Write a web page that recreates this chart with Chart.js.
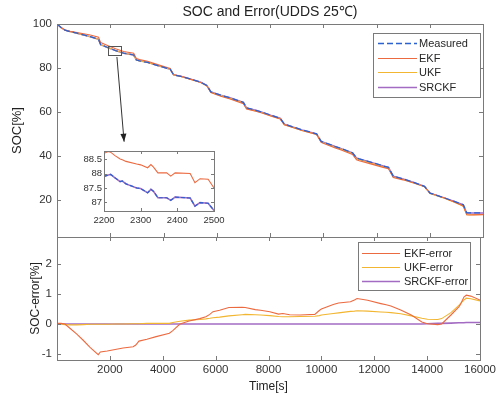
<!doctype html>
<html lang="en">

<head>
    <meta charset="utf-8" />
    <title>SOC and Error</title>
    <script src="https://cdn.jsdelivr.net/npm/chart.js"></script>
    <style>
        html, body { margin: 0; padding: 0; background: #fff; }
        #wrap { position: relative; width: 499px; height: 399px; }
        #wrap canvas { position: absolute; }
    </style>
</head>

<body>
    <div id="wrap">
        <canvas id="chartSoc" width="499" height="399" style="left:0;top:0"></canvas>
        <canvas id="chartError" width="499" height="399" style="left:0;top:0"></canvas>
        <canvas id="chartZoom" width="170" height="95" style="left:60px;top:140px"></canvas>
    </div>
    <script>
        // time grid [s]
        const time = [
            0, 150, 300, 500, 750, 1000, 1250, 1560, 1640, 1900,
            2200, 2500, 2880, 2980, 3100, 3400, 3750, 4250, 4380, 4650,
            5000, 5400, 5630, 5780, 5900, 6150, 6500, 7000, 7120, 7500,
            7700, 8050, 8380, 8540, 8800, 9200, 9750, 9920, 10000, 10450,
            10650, 11100, 11250, 11350, 11750, 12250, 12450, 12630, 13000, 13400,
            13800, 14010, 14400, 14550, 14900, 15200, 15260, 15390, 15480, 15650,
            16000
        ];
        // SOC [%]
        const socMeasured = [
            100.0, 98.4, 97.2, 96.5, 95.8, 95.0, 94.2, 93.0, 90.6, 89.3,
            87.9, 86.7, 85.9, 83.6, 83.2, 82.5, 81.2, 79.4, 76.8, 76.2,
            75.0, 73.5, 72.0, 69.1, 68.6, 67.6, 66.4, 64.3, 61.8, 60.6,
            59.9, 58.4, 57.1, 54.4, 53.4, 51.8, 50.0, 46.6, 46.2, 44.2,
            43.4, 41.3, 39.0, 38.6, 37.2, 35.4, 34.7, 30.7, 29.5, 27.9,
            26.1, 23.0, 21.4, 20.8, 19.3, 18.0, 17.7, 14.0, 14.0, 14.0,
            14.0
        ];
        const socEkf = [
            99.98, 98.38, 97.2, 96.65, 96.14, 95.55, 94.98, 94.02, 91.53, 90.2,
            88.75, 87.5, 86.66, 84.3, 83.77, 83.01, 81.62, 79.71, 77.02, 76.2,
            74.9, 73.32, 71.76, 68.78, 68.19, 67.14, 65.85, 63.74, 61.25, 60.12,
            59.44, 57.99, 56.77, 54.05, 53.09, 51.5, 49.68, 46.15, 45.7, 43.55,
            42.7, 40.56, 38.2, 37.75, 36.41, 34.72, 34.06, 30.1, 29.03, 27.6,
            26.03, 22.99, 21.42, 20.8, 19.0, 17.43, 17.05, 13.1, 13.04, 13.07,
            13.2
        ];
        const socUkf = [
            100.0, 98.41, 97.22, 96.53, 95.83, 95.02, 94.21, 93.01, 90.61, 89.31,
            87.9, 86.7, 85.89, 83.59, 83.19, 82.48, 81.18, 79.38, 76.75, 76.11,
            74.87, 73.35, 71.83, 68.91, 68.39, 67.37, 66.13, 63.99, 61.48, 60.29,
            59.6, 58.12, 56.85, 54.16, 53.16, 51.55, 49.74, 46.32, 45.9, 43.85,
            43.03, 40.88, 38.57, 38.16, 36.77, 35.0, 34.31, 30.32, 29.16, 27.63,
            25.91, 22.84, 21.25, 20.62, 18.92, 17.38, 17.02, 13.2, 13.14, 13.16,
            13.23
        ];
        const socSrckf = [
            100.0, 98.4, 97.2, 96.5, 95.8, 95.0, 94.2, 93.0, 90.6, 89.3,
            87.9, 86.7, 85.9, 83.6, 83.2, 82.5, 81.2, 79.4, 76.8, 76.2,
            75.0, 73.5, 72.0, 69.1, 68.6, 67.6, 66.4, 64.3, 61.8, 60.6,
            59.9, 58.4, 57.1, 54.4, 53.4, 51.8, 50.0, 46.6, 46.2, 44.2,
            43.4, 41.3, 39.0, 38.6, 37.2, 35.4, 34.7, 30.7, 29.5, 27.9,
            26.1, 22.99, 21.38, 20.78, 19.27, 17.96, 17.66, 13.96, 13.95, 13.95,
            13.95
        ];
        // SOC error [%]
        const errEkf = [
            0.02, 0.02, 0.0, -0.15, -0.34, -0.55, -0.78, -1.02, -0.93, -0.9,
            -0.85, -0.8, -0.76, -0.7, -0.57, -0.51, -0.42, -0.31, -0.22, 0.0,
            0.1, 0.18, 0.24, 0.32, 0.41, 0.46, 0.55, 0.56, 0.55, 0.48,
            0.46, 0.41, 0.33, 0.35, 0.31, 0.3, 0.32, 0.45, 0.5, 0.65,
            0.7, 0.74, 0.8, 0.85, 0.79, 0.68, 0.64, 0.6, 0.47, 0.3,
            0.07, 0.01, -0.02, 0.0, 0.3, 0.57, 0.65, 0.9, 0.96, 0.93,
            0.8
        ];
        const errUkf = [
            0.0, -0.01, -0.02, -0.03, -0.03, -0.02, -0.01, -0.01, -0.01, -0.01,
            0.0, 0.0, 0.01, 0.01, 0.01, 0.02, 0.02, 0.02, 0.05, 0.09,
            0.13, 0.15, 0.17, 0.19, 0.21, 0.23, 0.27, 0.31, 0.32, 0.31,
            0.3, 0.28, 0.25, 0.24, 0.24, 0.25, 0.26, 0.28, 0.3, 0.35,
            0.37, 0.42, 0.43, 0.44, 0.43, 0.4, 0.39, 0.38, 0.34, 0.27,
            0.19, 0.16, 0.15, 0.18, 0.38, 0.62, 0.68, 0.8, 0.86, 0.84,
            0.77
        ];
        const errSrckf = [
            0, 0, 0, 0, 0, 0, 0, 0, 0, 0,
            0, 0, 0, 0, 0, 0, 0, 0, 0, 0,
            0, 0, 0, 0, 0, 0, 0, 0, 0, 0,
            0, 0, 0, 0, 0, 0, 0, 0, 0, 0,
            0, 0, 0, 0, 0, 0, 0, 0, 0, 0,
            0, 0.01, 0.02, 0.02, 0.03, 0.04, 0.04, 0.04, 0.05, 0.05,
            0.05
        ];

        // close-up of 2200-2500 s
        const zoomTime = [2200, 2212, 2218, 2230, 2244, 2250, 2260, 2289, 2300, 2319, 2328,
            2335, 2347, 2371, 2382, 2394, 2435, 2448, 2462, 2484, 2500];
        const zoomMeasured = [87.90, 87.95, 87.97, 87.85, 87.72, 87.74, 87.64, 87.50, 87.48, 87.33, 87.45,
            87.38, 87.16, 87.16, 87.07, 87.18, 87.15, 86.87, 86.99, 86.97, 86.72];
        const zoomEkf = [88.70, 88.76, 88.74, 88.62, 88.50, 88.48, 88.42, 88.33, 88.30, 88.20, 88.31,
            88.22, 88.02, 88.02, 87.91, 88.02, 88.00, 87.68, 87.82, 87.80, 87.50];

        const timeTicks = [2000, 4000, 6000, 8000, 10000, 12000, 14000, 16000];
        const socTicks = [20, 40, 60, 80, 100];
        const errTicks = [-1, 0, 1, 2];
        const zoomTimeTicks = [2200, 2300, 2400, 2500];
        const zoomSocTicks = [87, 87.5, 88, 88.5];

        const BLUE = '#2b62d0';
        const RED = '#ec6a40';
        const YELLOW = '#f2b630';
        const PURPLE = '#a36cc2';
        const AXIS = '#7a7a7a';
        const FONT = "'Liberation Sans', Arial, Helvetica, sans-serif";

        Chart.defaults.font.family = FONT;
        Chart.defaults.color = '#262626';
        Chart.defaults.animation = false;

        function points(xs, ys) {
            return xs.map((x, i) => ({ x: x, y: ys[i] }));
        }

        function fixedTicks(values) {
            return (scale) => { scale.ticks = values.map((v) => ({ value: v })); };
        }

        function plainTicks(size, padding) {
            return { padding: padding, font: { size: size }, color: '#333', maxRotation: 0, callback: (v) => String(v) };
        }

        const noGrid = { display: false, drawTicks: false, tickLength: 0 };

        function line(label, xs, ys, color, width, dash) {
            return {
                label: label,
                data: points(xs, ys),
                borderColor: color,
                borderWidth: width,
                borderDash: dash || [],
                pointRadius: 0,
                tension: 0
            };
        }

        // box round the plot area with inward ticks on all four sides
        const framePlugin = {
            id: 'frame',
            afterDatasetsDraw(chart, args, opts) {
                const a = chart.chartArea;
                const ctx = chart.ctx;
                const x = chart.scales.x, y = chart.scales.y;
                const len = opts.tickLength;
                ctx.save();
                ctx.strokeStyle = AXIS;
                ctx.lineWidth = 1;
                ctx.beginPath();
                for (const t of x.ticks) {
                    const px = Math.round(x.getPixelForValue(t.value)) + 0.5;
                    ctx.moveTo(px, a.bottom); ctx.lineTo(px, a.bottom - len);
                    ctx.moveTo(px, a.top); ctx.lineTo(px, a.top + len);
                }
                for (const t of y.ticks) {
                    const py = Math.round(y.getPixelForValue(t.value)) + 0.5;
                    ctx.moveTo(a.left, py); ctx.lineTo(a.left + len, py);
                    ctx.moveTo(a.right, py); ctx.lineTo(a.right - len, py);
                }
                ctx.stroke();
                ctx.strokeRect(Math.round(a.left) + 0.5, Math.round(a.top) + 0.5,
                    Math.round(a.right - a.left), Math.round(a.bottom - a.top));
                ctx.restore();
            }
        };

        // title centred over the plot area
        const plotTitle = {
            id: 'plotTitle',
            afterDraw(chart, args, opts) {
                if (!opts.text) return;
                const a = chart.chartArea;
                const ctx = chart.ctx;
                ctx.save();
                ctx.font = '14px ' + FONT;
                ctx.fillStyle = '#222';
                ctx.textAlign = 'center';
                ctx.textBaseline = 'middle';
                ctx.fillText(opts.text, (a.left + a.right) / 2, opts.y);
                ctx.restore();
            }
        };

        // legend in a white box at the top right of the plot area
        const boxLegend = {
            id: 'boxLegend',
            afterDraw(chart, args, opts) {
                if (!opts.show) return;
                const a = chart.chartArea;
                const ctx = chart.ctx;
                const left = Math.round(a.right - opts.right - opts.width);
                const top = Math.round(a.top + opts.top);
                ctx.save();
                ctx.fillStyle = '#fff';
                ctx.fillRect(left, top, opts.width, opts.height);
                ctx.strokeStyle = AXIS;
                ctx.lineWidth = 1;
                ctx.strokeRect(left + 0.5, top + 0.5, opts.width, opts.height);
                ctx.font = '11px ' + FONT;
                ctx.textBaseline = 'middle';
                chart.data.datasets.forEach((ds, i) => {
                    const ly = Math.round(top + opts.firstRow + i * opts.rowHeight) + 0.5;
                    ctx.strokeStyle = ds.borderColor;
                    ctx.lineWidth = ds.borderWidth;
                    ctx.setLineDash(ds.borderDash);
                    ctx.beginPath();
                    ctx.moveTo(left + opts.lineStart, ly);
                    ctx.lineTo(left + opts.lineEnd, ly);
                    ctx.stroke();
                    ctx.setLineDash([]);
                    ctx.fillStyle = '#262626';
                    ctx.fillText(ds.label, left + opts.textX, ly);
                });
                ctx.restore();
            }
        };

        // small rectangle over the magnified window and the arrow down to the close-up
        const zoomMark = {
            id: 'zoomMark',
            afterDatasetsDraw(chart, args, opts) {
                if (!opts.box) return;
                const x = chart.scales.x, y = chart.scales.y;
                const ctx = chart.ctx;
                const x0 = Math.round(x.getPixelForValue(opts.box[0])) + 0.5;
                const x1 = Math.round(x.getPixelForValue(opts.box[1])) + 0.5;
                const y0 = Math.round(y.getPixelForValue(opts.box[3])) + 0.5;
                const y1 = Math.round(y.getPixelForValue(opts.box[2])) + 0.5;
                const ax = x.getPixelForValue(opts.arrowFrom[0]);
                const ay = y.getPixelForValue(opts.arrowFrom[1]);
                const bx = x.getPixelForValue(opts.arrowTo[0]);
                const by = y.getPixelForValue(opts.arrowTo[1]);
                ctx.save();
                ctx.strokeStyle = '#555';
                ctx.lineWidth = 1;
                ctx.strokeRect(x0, y0, x1 - x0, y1 - y0);
                ctx.strokeStyle = '#333';
                ctx.beginPath();
                ctx.moveTo(ax, ay);
                ctx.lineTo(bx, by);
                ctx.stroke();
                const ang = Math.atan2(by - ay, bx - ax);
                ctx.fillStyle = '#222';
                ctx.beginPath();
                ctx.moveTo(bx, by);
                ctx.lineTo(bx - 8 * Math.cos(ang) + 3 * Math.sin(ang), by - 8 * Math.sin(ang) - 3 * Math.cos(ang));
                ctx.lineTo(bx - 8 * Math.cos(ang) - 3 * Math.sin(ang), by - 8 * Math.sin(ang) + 3 * Math.cos(ang));
                ctx.closePath();
                ctx.fill();
                ctx.restore();
            }
        };

        const zoomBackground = {
            id: 'zoomBackground',
            beforeDatasetsDraw(chart) {
                const a = chart.chartArea;
                chart.ctx.save();
                chart.ctx.fillStyle = '#fff';
                chart.ctx.fillRect(a.left, a.top, a.right - a.left, a.bottom - a.top);
                chart.ctx.restore();
            }
        };

        function buildChartSoc() {
            const ctx = document.getElementById('chartSoc');
            new Chart(ctx, {
                type: 'line',
                data: {
                    datasets: [
                        line('Measured', time, socMeasured, BLUE, 1.3, [6, 3]),
                        line('EKF', time, socEkf, RED, 1.1),
                        line('UKF', time, socUkf, YELLOW, 1.1),
                        line('SRCKF', time, socSrckf, PURPLE, 1.4)
                    ]
                },
                options: {
                    responsive: false,
                    devicePixelRatio: 1,
                    layout: { padding: { left: 0, right: 16, top: 24, bottom: 162 } },
                    plugins: {
                        legend: { display: false },
                        tooltip: { enabled: false },
                        plotTitle: { text: 'SOC and Error(UDDS 25℃)', y: 12.5 },
                        frame: { tickLength: 4 },
                        boxLegend: {
                            show: true, right: 3, top: 9, width: 107, height: 64,
                            firstRow: 10, rowHeight: 14.6, lineStart: 5, lineEnd: 44, textX: 46
                        },
                        zoomMark: { box: [1900, 2400, 86, 90], arrowFrom: [2250, 85], arrowTo: [2520, 46.4] }
                    },
                    scales: {
                        x: {
                            type: 'linear', min: 0, max: 16000,
                            grid: noGrid, border: { display: false },
                            ticks: { display: false },
                            afterBuildTicks: fixedTicks(timeTicks),
                            afterFit: (scale) => { scale.height = 0; }
                        },
                        y: {
                            min: 3, max: 100,
                            grid: noGrid, border: { display: false },
                            ticks: plainTicks(11.5, 5),
                            afterBuildTicks: fixedTicks(socTicks),
                            afterFit: (scale) => { scale.width = 57; },
                            title: {
                                display: true, text: 'SOC[%]', color: '#222',
                                font: { size: 13 }, padding: { top: 10, bottom: 0 }
                            }
                        }
                    }
                },
                plugins: [framePlugin, boxLegend, zoomMark, plotTitle]
            });
        }

        function buildChartError() {
            const ctx = document.getElementById('chartError');
            new Chart(ctx, {
                type: 'line',
                data: {
                    datasets: [
                        line('EKF-error', time, errEkf, RED, 1.1),
                        line('UKF-error', time, errUkf, YELLOW, 1.1),
                        line('SRCKF-error', time, errSrckf, PURPLE, 1.6)
                    ]
                },
                options: {
                    responsive: false,
                    devicePixelRatio: 1,
                    layout: { padding: { left: 0, right: 16, top: 237, bottom: 0 } },
                    plugins: {
                        legend: { display: false },
                        tooltip: { enabled: false },
                        frame: { tickLength: 4 },
                        boxLegend: {
                            show: true, right: 10, top: 5, width: 112, height: 48,
                            firstRow: 11, rowHeight: 14, lineStart: 4, lineEnd: 42, textX: 46
                        }
                    },
                    scales: {
                        x: {
                            type: 'linear', min: 0, max: 16000,
                            grid: noGrid, border: { display: false },
                            ticks: plainTicks(11.5, 3),
                            afterBuildTicks: fixedTicks(timeTicks),
                            afterFit: (scale) => { scale.height = 39; },
                            title: {
                                display: true, text: 'Time[s]', color: '#222',
                                font: { size: 12 }, padding: { top: 0, bottom: 4.8 }
                            }
                        },
                        y: {
                            min: -1.2, max: 2.9,
                            grid: noGrid, border: { display: false },
                            ticks: plainTicks(11.5, 5),
                            afterBuildTicks: fixedTicks(errTicks),
                            afterFit: (scale) => { scale.width = 57; },
                            title: {
                                display: true, text: 'SOC-error[%]', color: '#222',
                                font: { size: 12 }, padding: { top: 28, bottom: 0 }
                            }
                        }
                    }
                },
                plugins: [framePlugin, boxLegend]
            });
        }

        function buildChartZoom() {
            const ctx = document.getElementById('chartZoom');
            new Chart(ctx, {
                type: 'line',
                data: {
                    datasets: [
                        line('Measured', zoomTime, zoomMeasured, BLUE, 1.2, [4, 2]),
                        line('EKF', zoomTime, zoomEkf, RED, 1.1),
                        line('SRCKF', zoomTime, zoomMeasured, PURPLE, 1.6)
                    ]
                },
                options: {
                    responsive: false,
                    devicePixelRatio: 1,
                    layout: { padding: { left: 0, right: 16, top: 11, bottom: 0 } },
                    plugins: {
                        legend: { display: false },
                        tooltip: { enabled: false },
                        frame: { tickLength: 3 }
                    },
                    scales: {
                        x: {
                            type: 'linear', min: 2200, max: 2500,
                            grid: noGrid, border: { display: false },
                            ticks: plainTicks(9.5, 4),
                            afterBuildTicks: fixedTicks(zoomTimeTicks),
                            afterFit: (scale) => { scale.height = 24; }
                        },
                        y: {
                            min: 86.7, max: 88.78,
                            grid: noGrid, border: { display: false },
                            ticks: plainTicks(9.5, 2),
                            afterBuildTicks: fixedTicks(zoomSocTicks),
                            afterFit: (scale) => { scale.width = 44; }
                        }
                    }
                },
                plugins: [zoomBackground, framePlugin]
            });
        }

        buildChartSoc();
        buildChartError();
        buildChartZoom();
    </script>
</body>

</html>
